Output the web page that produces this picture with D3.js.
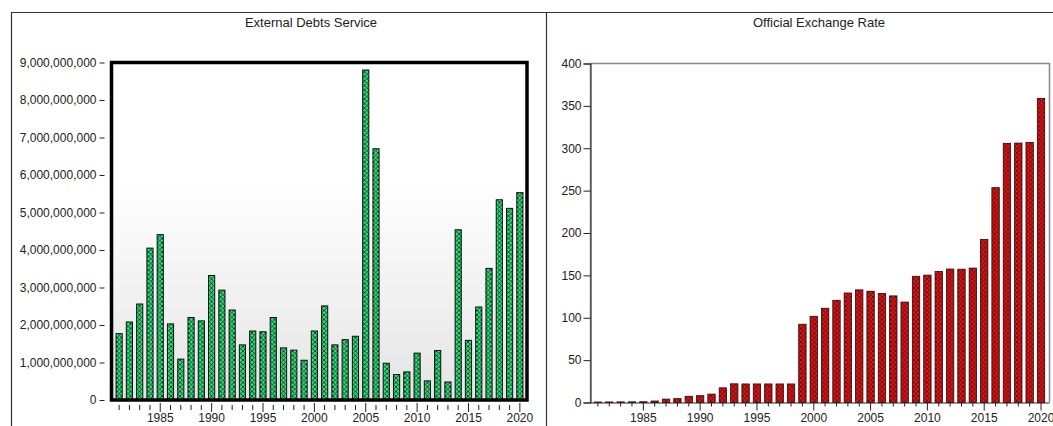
<!DOCTYPE html>
<html><head><meta charset="utf-8">
<script src="https://cdn.jsdelivr.net/npm/d3@7/dist/d3.min.js"></script>
<style>body{margin:0;background:#fff;} svg{display:block;font-family:"Liberation Sans",Arial,sans-serif;}</style>
</head><body><svg id="c" width="1053" height="426"></svg>
<script>
const years = [1981,1982,1983,1984,1985,1986,1987,1988,1989,1990,1991,1992,1993,1994,1995,1996,1997,1998,1999,2000,2001,2002,2003,2004,2005,2006,2007,2008,2009,2010,2011,2012,2013,2014,2015,2016,2017,2018,2019,2020];
const debtService = [1.77e9,2.08e9,2.56e9,4.05e9,4.41e9,2.03e9,1.09e9,2.20e9,2.11e9,3.32e9,2.93e9,2.40e9,1.47e9,1.84e9,1.82e9,2.20e9,1.39e9,1.33e9,1.06e9,1.84e9,2.51e9,1.47e9,1.61e9,1.70e9,8.80e9,6.70e9,0.98e9,0.68e9,0.75e9,1.25e9,0.51e9,1.32e9,0.48e9,4.54e9,1.59e9,2.48e9,3.51e9,5.34e9,5.11e9,5.53e9];
const exchangeRate = [0.61,0.67,0.72,0.77,0.89,1.75,4.0,4.54,7.36,8.04,9.91,17.3,22.05,21.89,21.89,21.89,21.89,21.89,92.34,101.7,111.2,120.6,129.2,132.9,131.3,128.7,125.8,118.5,148.9,150.3,154.7,157.5,157.3,158.6,192.4,253.5,305.8,306.1,306.9,358.8];
const debtTicks = [0,1e9,2e9,3e9,4e9,5e9,6e9,7e9,8e9,9e9];
const rateTicks = [0,50,100,150,200,250,300,350,400];
const yearLabels = [1985,1990,1995,2000,2005,2010,2015,2020];
const titles = ["External Debts Service","Official Exchange Rate"];

const svg = d3.select("#c");
const defs = svg.append("defs");

const grad = defs.append("linearGradient").attr("id","bg").attr("x1",0).attr("y1",0).attr("x2",0).attr("y2",1);
grad.append("stop").attr("offset","0%").attr("stop-color","#ffffff");
grad.append("stop").attr("offset","35%").attr("stop-color","#ffffff");
grad.append("stop").attr("offset","100%").attr("stop-color","#e4e4e4");

function hatch(id, bg, fg, s, w){
  const p = defs.append("pattern").attr("id",id).attr("patternUnits","userSpaceOnUse").attr("width",s).attr("height",s);
  p.append("rect").attr("width",s).attr("height",s).attr("fill",bg);
  p.append("path").attr("d",`M0,0L${s},${s}M${s},0L0,${s}`).attr("stroke",fg).attr("stroke-width",w);
}
hatch("hg","#2fe07c","#0a3a1c",4.5,0.9);
hatch("hr","#d41818","#6a0808",4.5,0.9);

// outer frames
const frame = svg.append("g").attr("stroke","#333").attr("stroke-width",1.2).attr("fill","none");
frame.append("line").attr("x1",11).attr("x2",1053).attr("y1",12.5).attr("y2",12.5);
frame.append("line").attr("x1",11.5).attr("x2",11.5).attr("y1",12).attr("y2",426);
frame.append("line").attr("x1",546.5).attr("x2",546.5).attr("y1",12).attr("y2",426);

const FONT = "Liberation Sans, Arial, sans-serif";

// ---------- Left panel ----------
const L = {x0:111.5, x1:527, y0:62.5, y1:400};
const xL = d3.scaleBand().domain(years).range([114,525]).paddingInner(0.4).paddingOuter(0.2);
const yL = d3.scaleLinear().domain([0,9e9]).range([L.y1, L.y0]);

svg.append("rect").attr("x",L.x0).attr("y",L.y0).attr("width",L.x1-L.x0).attr("height",L.y1-L.y0).attr("fill","url(#bg)");
svg.append("g").selectAll("rect").data(years).join("rect")
  .attr("x",d=>xL(d)).attr("width",xL.bandwidth())
  .attr("y",(d,i)=>yL(debtService[i])).attr("height",(d,i)=>yL(0)-yL(debtService[i]))
  .attr("fill","url(#hg)").attr("stroke","#111").attr("stroke-width",1);
svg.append("rect").attr("x",L.x0).attr("y",L.y0).attr("width",L.x1-L.x0).attr("height",L.y1-L.y0)
  .attr("fill","none").attr("stroke","#000").attr("stroke-width",3.5);

const yAxL = d3.axisLeft(yL).tickValues(debtTicks).tickFormat(d3.format(",")).tickSize(5).tickPadding(3);
const gyL = svg.append("g").attr("transform","translate(104.5,0)").call(yAxL);
gyL.select(".domain").remove();
gyL.selectAll("text").attr("font-size",12).attr("fill","#222").attr("font-family",FONT);
gyL.selectAll("line").attr("stroke","#222");

const xAxL = d3.axisBottom(xL).tickValues(years).tickSize(0).tickFormat(d=>yearLabels.includes(d)?d:"");
const gxL = svg.append("g").attr("transform",`translate(0,${L.y1+3})`).call(xAxL);
gxL.select(".domain").remove();
gxL.selectAll(".tick line").attr("y1",d=>yearLabels.includes(d)?0:2).attr("y2",d=>yearLabels.includes(d)?9:7).attr("stroke","#222");
gxL.selectAll("text").attr("font-size",12).attr("fill","#222").attr("y",10.5).attr("font-family",FONT);

svg.append("text").attr("x",311).attr("y",27).attr("text-anchor","middle").attr("font-size",13).attr("fill","#222").text(titles[0]);

// ---------- Right panel ----------
const R = {x0:590.5, x1:1049.5, y0:63.5, y1:402.5};
const xR = d3.scaleBand().domain(years).range([592.2,1046.7]).paddingInner(0.35).paddingOuter(0.175);
const yR = d3.scaleLinear().domain([0,400]).range([R.y1, R.y0]);

svg.append("path").attr("d",`M${R.x0},${R.y1}V${R.y0}H${R.x1}V${R.y1}`).attr("fill","none").attr("stroke","#888").attr("stroke-width",1.5);
svg.append("g").selectAll("rect").data(years).join("rect")
  .attr("x",d=>xR(d)).attr("width",xR.bandwidth())
  .attr("y",(d,i)=>yR(exchangeRate[i])).attr("height",(d,i)=>yR(0)-yR(exchangeRate[i]))
  .attr("fill","url(#hr)").attr("stroke","#3a0000").attr("stroke-width",0.8);

const yAxR = d3.axisLeft(yR).tickValues(rateTicks).tickSize(7).tickPadding(2);
const gyR = svg.append("g").attr("transform",`translate(${R.x0},0)`).call(yAxR);
gyR.select(".domain").attr("stroke","#222");
gyR.selectAll("text").attr("font-size",12).attr("fill","#222").attr("font-family",FONT);
gyR.selectAll("line").attr("stroke","#222");

const xAxR = d3.axisBottom(xR).tickValues(years).tickSizeOuter(0).tickSize(0).tickFormat(d=>yearLabels.includes(d)?d:"");
const gxR = svg.append("g").attr("transform",`translate(0,${R.y1})`).call(xAxR);
gxR.select(".domain").attr("stroke","#222").attr("d",`M${R.x0},0.5H${R.x1}`);
gxR.selectAll(".tick line").attr("y1",0).attr("y2",d=>yearLabels.includes(d)?8:4).attr("stroke","#222");
gxR.selectAll("text").attr("font-size",12).attr("fill","#222").attr("y",11).attr("font-family",FONT);

svg.append("text").attr("x",819).attr("y",27).attr("text-anchor","middle").attr("font-size",13).attr("fill","#222").text(titles[1]);
</script></body></html>
